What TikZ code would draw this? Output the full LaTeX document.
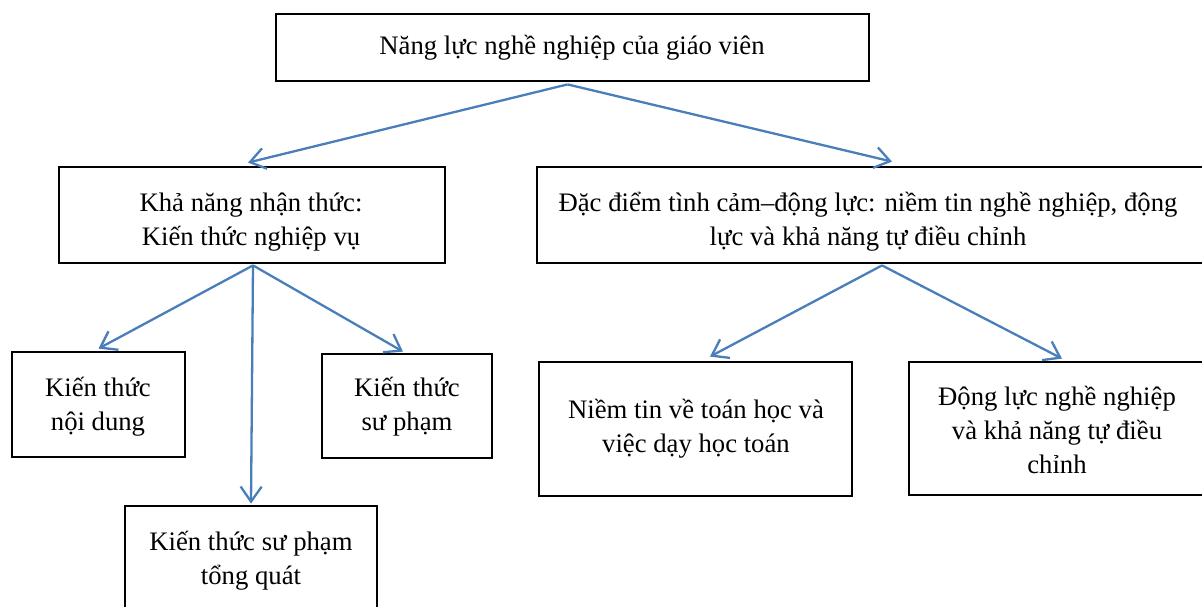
\documentclass[tikz,border=0pt]{standalone}
\usepackage{fontspec}
\setmainfont{Liberation Serif}
\usetikzlibrary{arrows.meta,calc}
\definecolor{arrowblue}{RGB}{74,126,187}
\begin{document}
\begin{tikzpicture}[x=1pt,y=-1pt,
  box/.style={draw=black, line width=2.8pt, rectangle, inner sep=0pt},
  txt/.style={align=center, font=\fontsize{26.7}{34}\selectfont, inner sep=0pt},
  link/.style={draw=arrowblue, line width=2.3pt, -{Straight Barb[length=15pt,width=21pt]}}]
\useasboundingbox (0,0) rectangle (1202,606);
% boxes
\node[box, minimum width=593pt, minimum height=67pt] (top) at (572.5,47.5) {};
\node[box, minimum width=386pt, minimum height=96pt] (A) at (252,215) {};
\node[box, minimum width=667pt, minimum height=96pt] (B) at (870.5,215) {};
\node[box, minimum width=173pt, minimum height=105pt] (C) at (98.5,404.5) {};
\node[box, minimum width=170pt, minimum height=104pt] (D) at (407,406) {};
\node[box, minimum width=252pt, minimum height=106pt] (E) at (251,559) {};
\node[box, minimum width=313pt, minimum height=134pt] (F) at (695.5,429) {};
\node[box, minimum width=295pt, minimum height=133pt] (G) at (1056.5,428.5) {};
% texts
\node[txt] (topt) at (572,48) {Năng lực nghề nghiệp của giáo viên};
\node[txt] (At) at (251,222) {Khả năng nhận thức:\\Kiến thức nghiệp vụ};
\node[txt] (Bt) at (868,222) {Đặc điểm tình cảm–động lực: niềm tin nghề nghiệp, động\\lực và khả năng tự điều chỉnh};
\node[txt] (Ct) at (98,407) {Kiến thức\\nội dung};
\node[txt] (Dt) at (407,407) {Kiến thức\\sư phạm};
\node[txt] (Et) at (251,561) {Kiến thức sư phạm\\tổng quát};
\node[txt] (Ft) at (696,429) {Niềm tin về toán học và\\việc dạy học toán};
\node[txt] (Gt) at (1057,430) {Động lực nghề nghiệp\\và khả năng tự điều\\chỉnh};
% connectors
\draw[link] ($(top.south)+(-5,2)$) -- ($(A.north)+(-4,-3)$);
\draw[link] ($(top.south)+(-5,2)$) -- ($(B.north)+(21.5,-4)$);
\draw[link] ($(A.south)+(1,1)$) -- ($(C.north)+(0,-2)$);
\draw[link] ($(A.south)+(1,1)$) -- ($(D.north)+(-4,-1)$);
\draw[link] ($(A.south)+(1,1)$) -- ($(E.north)+(0,-1)$);
\draw[link] ($(B.south)+(11.5,1)$) -- ($(F.north)+(14.5,-4)$);
\draw[link] ($(B.south)+(11.5,1)$) -- ($(G.north)+(5.5,-2)$);
\end{tikzpicture}
\end{document}
